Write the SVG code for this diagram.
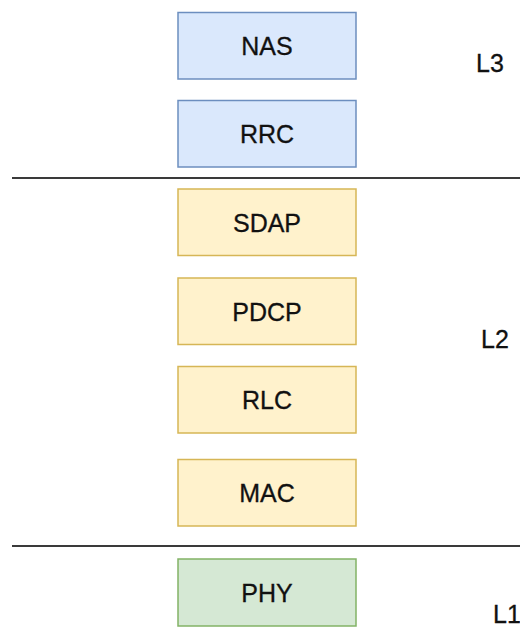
<svg xmlns="http://www.w3.org/2000/svg" width="520" height="628" viewBox="0 0 520 628">
<style>
.box{stroke-width:1.5}
.l3{fill:#dae8fc;stroke:#6c8ebf}
.l2{fill:#fff2cc;stroke:#d6b656}
.l1{fill:#d5e8d4;stroke:#82b366}
text{font-family:"Liberation Sans",Arial,sans-serif;font-size:25px;fill:#111111;stroke:#111111;stroke-width:0.3;text-anchor:middle;dominant-baseline:central}
.lbl{text-anchor:start}
.sep{stroke:#3a3a3a;stroke-width:2}
</style>
<rect width="520" height="628" fill="#ffffff"/>
<g id="connectors">
<line class="sep" x1="12" y1="178" x2="520" y2="178"/>
<line class="sep" x1="12" y1="546" x2="520" y2="546"/>
</g>
<g id="nas"><rect class="box l3" x="178" y="12.5" width="178" height="66.5"/><text x="267" y="46">NAS</text></g>
<g id="rrc"><rect class="box l3" x="178" y="100.5" width="178" height="66.5"/><text x="267" y="134">RRC</text></g>
<g id="sdap"><rect class="box l2" x="178" y="189" width="178" height="66.5"/><text x="267" y="222.5">SDAP</text></g>
<g id="pdcp"><rect class="box l2" x="178" y="278" width="178" height="66.5"/><text x="267" y="311.5">PDCP</text></g>
<g id="rlc"><rect class="box l2" x="178" y="366.5" width="178" height="66.5"/><text x="267" y="400">RLC</text></g>
<g id="mac"><rect class="box l2" x="178" y="459.5" width="178" height="66.5"/><text x="267" y="493">MAC</text></g>
<g id="phy"><rect class="box l1" x="178" y="559" width="178" height="67"/><text x="267" y="592.5">PHY</text></g>
<g id="label-l3"><text class="lbl" x="476" y="63">L3</text></g>
<g id="label-l2"><text class="lbl" x="481" y="338.5">L2</text></g>
<g id="label-l1"><text class="lbl" x="493" y="614">L1</text></g>
</svg>
